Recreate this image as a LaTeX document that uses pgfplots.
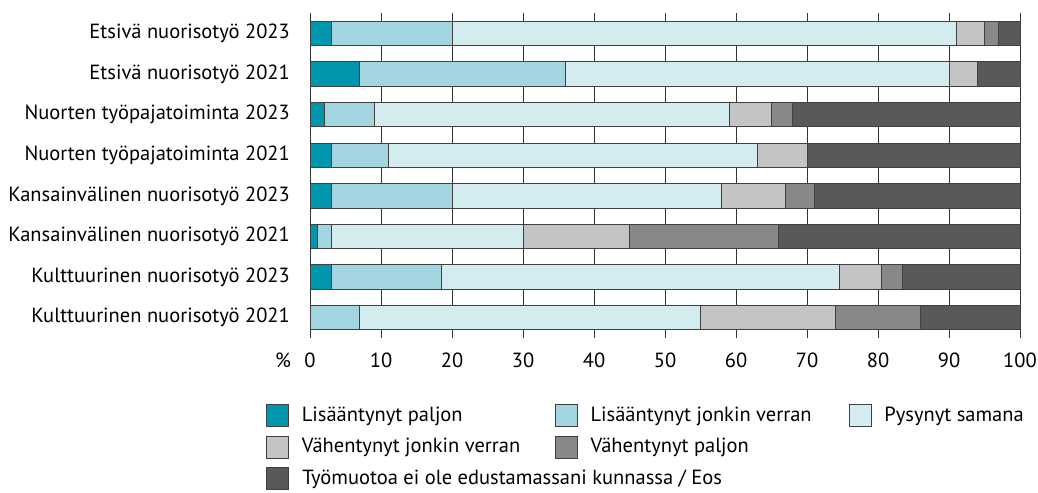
\documentclass[border=0pt]{standalone}
\usepackage{pgfplots}
\pgfplotsset{compat=1.18}
\usepackage{fontspec}
\setmainfont{PT Sans}
\definecolor{cA}{HTML}{0096AE}
\definecolor{cB}{HTML}{A2D5E0}
\definecolor{cC}{HTML}{D4EBEF}
\definecolor{cD}{HTML}{C4C4C4}
\definecolor{cE}{HTML}{888888}
\definecolor{cF}{HTML}{595959}
\begin{document}
\fontsize{20.5bp}{24bp}\selectfont
\begin{tikzpicture}
\path[use as bounding box] (0bp,0bp) rectangle (1038bp,-493bp);
\begin{axis}[
  at={(310bp,-338bp)}, anchor=south west,
  width=710bp, height=325bp, scale only axis, clip=false,
  xbar stacked, bar width=0.6,
  xmin=0, xmax=100, ymin=-0.5, ymax=7.5,
  xtick={0,10,...,100}, ytick={0,...,7},
  yticklabels={Kulttuurinen nuorisotyö 2021, Kulttuurinen nuorisotyö 2023, Kansainvälinen nuorisotyö 2021, Kansainvälinen nuorisotyö 2023, Nuorten työpajatoiminta 2021, Nuorten työpajatoiminta 2023, Etsivä nuorisotyö 2021, Etsivä nuorisotyö 2023},
  xmajorgrids, grid style={black!80, line width=0.9bp},
  axis line style={draw=none},
  major tick length=0pt, tick style={draw=none},
  /pgf/number format/assume math mode=true,
  xticklabel style={anchor=base, inner sep=0pt, yshift=-29bp},
  yticklabel style={anchor=east, inner sep=0pt, xshift=-20bp},
  every axis plot/.append style={draw=black!75, line width=0.8bp},
  legend image code/.code={\draw[#1,draw=black!75,line width=0.8bp] (0bp,-11bp) rectangle (22bp,11bp);},
  legend columns=3, legend cell align=left,
  legend style={at={(0,0)}, anchor=north west, xshift=-44bp, yshift=-66bp,
    draw=none, fill=none, inner sep=0pt, outer sep=0pt, row sep=8.7bp,
    nodes={inner sep=0pt},
    /tikz/every odd column/.append style={column sep=13bp}},
]
\addplot[fill=cA] coordinates {(0,0) (3,1) (1,2) (3,3) (3,4) (2,5) (7,6) (3,7)};
\addlegendentry{\makebox[253bp][l]{Lisääntynyt paljon}}
\addplot[fill=cB] coordinates {(7,0) (15.5,1) (2,2) (17,3) (8,4) (7,5) (29,6) (17,7)};
\addlegendentry{\makebox[258bp][l]{Lisääntynyt jonkin verran}}
\addplot[fill=cC] coordinates {(48,0) (56,1) (27,2) (38,3) (52,4) (50,5) (54,6) (71,7)};
\addlegendentry{Pysynyt samana}
\addplot[fill=cD] coordinates {(19,0) (6,1) (15,2) (9,3) (7,4) (6,5) (4,6) (4,7)};
\addlegendentry{\makebox[253bp][l]{Vähentynyt jonkin verran}}
\addplot[fill=cE] coordinates {(12,0) (3,1) (21,2) (4,3) (0,4) (3,5) (0,6) (2,7)};
\addlegendentry{\makebox[258bp][l]{Vähentynyt paljon}}
\addlegendimage{empty legend}
\addlegendentry{}
\addplot[fill=cF] coordinates {(14,0) (16.5,1) (34,2) (29,3) (30,4) (32,5) (6,6) (3,7)};
\addlegendentry{\makebox[0pt][l]{Työmuotoa ei ole edustamassani kunnassa / Eos}}
\node[anchor=base, inner sep=0pt] at ([shift={(-27bp,-29bp)}]rel axis cs:0,0) {\%};
\end{axis}
\end{tikzpicture}
\end{document}
